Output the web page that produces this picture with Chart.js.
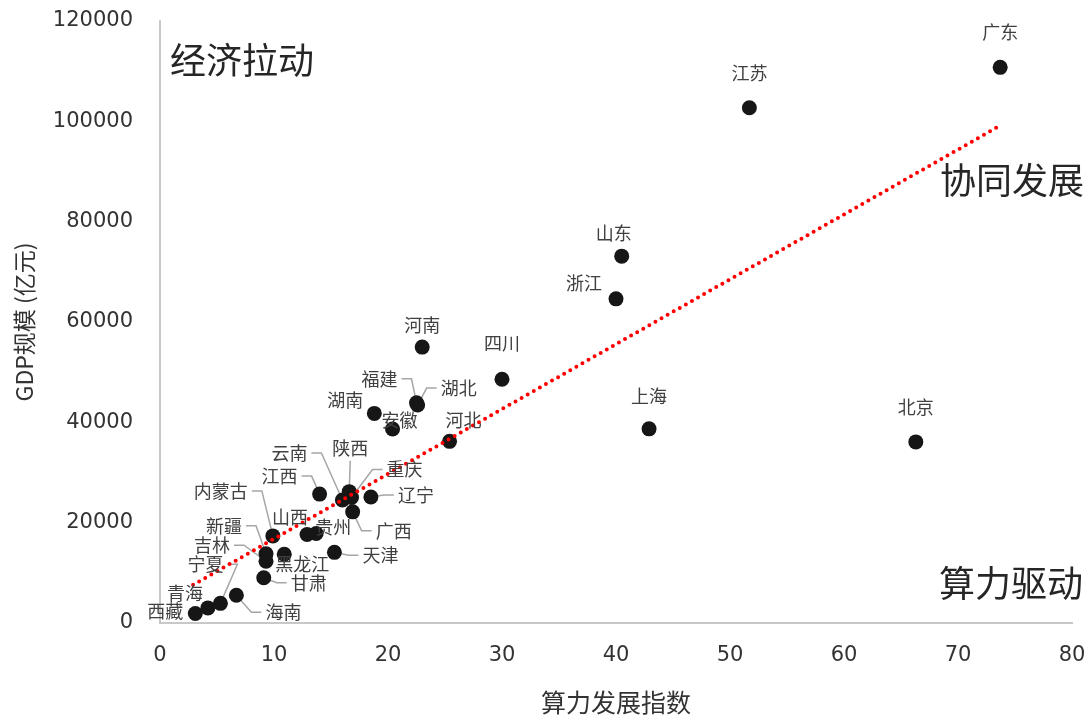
<!DOCTYPE html>
<html>
<head>
<meta charset="utf-8">
<script src="https://cdn.jsdelivr.net/npm/chart.js@4"></script>
<style>
  html, body { margin: 0; padding: 0; background: #fff; }
  #wrap { width: 1091px; height: 721px; }
</style>
</head>
<body>
<div id="wrap"><canvas id="chart"></canvas></div>
<script>
// province names
const provinces = ['广东','江苏','山东','浙江','河南','四川','福建','湖北','湖南','上海','安徽','河北','北京',
  '陕西','江西','辽宁','重庆','云南','广西','贵州','山西','内蒙古','天津','新疆','黑龙江','吉林','甘肃',
  '海南','宁夏','青海','西藏'];
// 算力发展指数
const computeIndex = [73.7, 51.7, 40.5, 40.0, 23.0, 30.0, 22.5, 22.6, 18.8, 42.9, 20.4, 25.4, 66.3,
  16.6, 14.0, 18.5, 16.8, 16.0, 16.9, 13.7, 12.9, 9.9, 15.3, 9.3, 10.9, 9.3, 9.1,
  6.7, 5.3, 4.2, 3.1];
// GDP (亿元)
const gdp = [110761, 102719, 73129, 64613, 54997, 48599, 43904, 43443, 41781, 38701, 38681, 36207, 36103,
  26182, 25692, 25115, 25003, 24522, 22157, 17827, 17652, 17360, 14084, 13798, 13699, 12311, 9017,
  5532, 3921, 3006, 1903];
// trend line ends
const trendX = [2.9, 73.5];
const trendY = [7600, 98900];
const xTicks = [0, 10, 20, 30, 40, 50, 60, 70, 80];
const yTicks = [0, 20000, 40000, 60000, 80000, 100000, 120000];

// label placement (pixel offsets from point, leader line flag)
const labelPos = {
  '广东': [0, -35], '江苏': [0, -35], '山东': [-8, -23], '浙江': [-32, -16], '上海': [0, -33],
  '北京': [0, -35], '河南': [0, -22], '四川': [0, -36], '福建': [-37, -24, 1], '湖北': [41, -17, 1],
  '湖南': [-29, -13], '安徽': [7, -9], '河北': [14, -21], '云南': [-53, -47, 1], '陕西': [1, -43, 1],
  '重庆': [53, -28, 1], '辽宁': [45, -2, 1], '江西': [-40, -18, 1], '内蒙古': [-52, -45, 1],
  '山西': [-17, -17], '贵州': [17, -6], '新疆': [-42, -28, 1], '吉林': [-54, -16, 1],
  '黑龙江': [18, 10], '天津': [46, 3, 1], '甘肃': [45, 5, 1], '海南': [47, 17, 1],
  '宁夏': [-15, -39, 1], '青海': [-23, -15], '西藏': [-30, -2], '广西': [41, 19, 1]
};

const CJK = '"Noto Sans CJK SC", "Noto Sans", sans-serif';
const NUM = '"DejaVu Sans", sans-serif';

const points = provinces.map((p, i) => ({ x: computeIndex[i], y: gdp[i], name: p }));
const trend = trendX.map((x, i) => ({ x: x, y: trendY[i] }));

function labelBox(ctx, pt, name) {
  const o = labelPos[name] || [0, -22];
  const w = ctx.measureText(name).width;
  return { cx: pt.x + o[0], cy: pt.y + o[1], w: w, leader: !!o[2], dx: o[0], dy: o[1] };
}

const labelPlugin = {
  id: 'labels',
  beforeDatasetsDraw(chart) {
    const ctx = chart.ctx;
    const meta = chart.getDatasetMeta(1);
    ctx.save();
    ctx.font = '18px ' + CJK;
    ctx.strokeStyle = '#a6a6a6';
    ctx.lineWidth = 1.5;
    meta.data.forEach((el, i) => {
      const b = labelBox(ctx, el, provinces[i]);
      if (!b.leader) return;
      ctx.beginPath();
      if (Math.abs(b.dx) < 15) {
        ctx.moveTo(b.cx, b.cy + 12);
        ctx.lineTo(el.x, el.y);
      } else {
        const s = b.dx > 0 ? -1 : 1;
        const sx = b.cx + s * (b.w / 2 + 4);
        ctx.moveTo(sx, b.cy);
        ctx.lineTo(sx + s * 10, b.cy);
        ctx.lineTo(el.x, el.y);
      }
      ctx.stroke();
    });
    ctx.restore();
  },
  afterDatasetsDraw(chart) {
    const ctx = chart.ctx;
    const meta = chart.getDatasetMeta(1);
    ctx.save();
    ctx.font = '18px ' + CJK;
    ctx.fillStyle = '#404040';
    ctx.textAlign = 'center';
    ctx.textBaseline = 'middle';
    meta.data.forEach((el, i) => {
      const b = labelBox(ctx, el, provinces[i]);
      ctx.fillText(provinces[i], b.cx, b.cy);
    });
    // quadrant captions
    const a = chart.chartArea;
    ctx.font = '36px ' + CJK;
    ctx.fillStyle = '#262626';
    ctx.textAlign = 'left';
    ctx.fillText('经济拉动', a.left + 10, 60);
    ctx.textAlign = 'right';
    ctx.fillText('协同发展', a.right + 12, 180);
    ctx.fillText('算力驱动', a.right + 11, 583);
    ctx.restore();
  }
};

new Chart(document.getElementById('chart'), {
  type: 'scatter',
  data: {
    datasets: [
      {
        type: 'line',
        data: trend,
        borderColor: '#ff0000',
        borderWidth: 4,
        borderDash: [0, 7],
        borderCapStyle: 'round',
        pointRadius: 0,
        fill: false
      },
      {
        data: points,
        backgroundColor: '#161616',
        borderWidth: 0,
        pointRadius: 7.5,
        pointHoverRadius: 7.5
      }
    ]
  },
  options: {
    responsive: true,
    maintainAspectRatio: false,
    animation: false,
    layout: { padding: { left: 0, right: 19, top: 21, bottom: 0 } },
    plugins: { legend: { display: false }, tooltip: { enabled: false } },
    scales: {
      x: {
        type: 'linear', min: 0, max: 80,
        afterBuildTicks: s => { s.ticks = xTicks.map(v => ({ value: v })); },
        afterFit: s => { s.height = 98; s.paddingLeft = 0; s.paddingRight = 0; },
        grid: { display: false, drawTicks: false },
        border: { color: '#c8c8c8', width: 2 },
        ticks: { color: '#333333', font: { family: NUM, size: 21 }, padding: 20 },
        title: { display: true, text: '算力发展指数', color: '#333333',
                 font: { family: CJK, size: 25 }, padding: { top: 0, bottom: 4 } }
      },
      y: {
        type: 'linear', min: 0, max: 120000,
        afterBuildTicks: s => { s.ticks = yTicks.map(v => ({ value: v })); },
        afterFit: s => { s.width = 160; s.paddingTop = 0; s.paddingBottom = 0; },
        grid: { display: false, drawTicks: false },
        border: { color: '#c8c8c8', width: 2 },
        ticks: { color: '#333333', font: { family: NUM, size: 21 }, padding: 27,
                 callback: v => String(v) },
        title: { display: true, text: 'GDP规模 (亿元)', color: '#333333',
                 font: { family: CJK, size: 23 }, padding: { top: 10, bottom: 0 } }
      }
    }
  },
  plugins: [labelPlugin]
});
</script>
</body>
</html>
